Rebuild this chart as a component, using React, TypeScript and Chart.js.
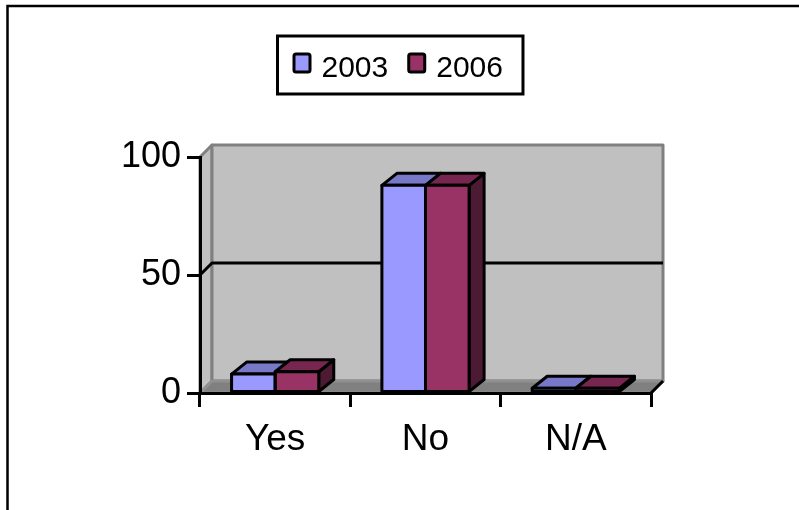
import React, { useEffect, useRef } from "react";
import { Chart, registerables } from "chart.js";

Chart.register(...registerables);

// ---- data ----
const categories = ["Yes", "No", "N/A"];
const seriesLabels = ["2003", "2006"];
const values2003 = [8, 88, 2];
const values2006 = [9, 88, 2];
const yTicks = [0, 50, 100];

// ---- styling ----
const FONT = '"Liberation Sans", Arial, Helvetica, sans-serif';
const frontColors = ["#9999FF", "#993366"];
const topColors = ["#7878C8", "#77264F"];
const sideColors = ["#4D4D80", "#4C1A33"];
const WALL_DX = 12;
const WALL_DY = 12;
const BAR_DX = 15;
const BAR_DY = 12;

const scenePlugin = {
  id: "scene3d",
  beforeDraw(chart: any) {
    const ctx = chart.ctx as CanvasRenderingContext2D;
    const { left, right } = chart.chartArea;
    const ys = chart.scales.y;
    const y0 = ys.getPixelForValue(ys.min);
    const yTop = ys.getPixelForValue(ys.max);
    ctx.save();
    ctx.fillStyle = "#ffffff";
    ctx.fillRect(0, 0, chart.width, chart.height);

    // outer frame (top and left edges)
    ctx.strokeStyle = "#000";
    ctx.lineWidth = 2.5;
    ctx.beginPath();
    ctx.moveTo(7.5, chart.height);
    ctx.lineTo(7.5, 6);
    ctx.lineTo(chart.width, 6);
    ctx.stroke();

    ctx.lineJoin = "round";
    // side wall
    ctx.fillStyle = "#C0C0C0";
    ctx.strokeStyle = "#808080";
    ctx.lineWidth = 3;
    ctx.beginPath();
    ctx.moveTo(left, yTop);
    ctx.lineTo(left + WALL_DX, yTop - WALL_DY);
    ctx.lineTo(left + WALL_DX, y0 - WALL_DY);
    ctx.lineTo(left, y0);
    ctx.closePath();
    ctx.fill();
    ctx.stroke();

    // back wall
    ctx.beginPath();
    ctx.rect(left + WALL_DX, yTop - WALL_DY, right - left, y0 - yTop);
    ctx.fill();
    ctx.stroke();

    // floor
    ctx.fillStyle = "#808080";
    ctx.strokeStyle = "#909090";
    ctx.beginPath();
    ctx.moveTo(left, y0);
    ctx.lineTo(left + WALL_DX, y0 - WALL_DY);
    ctx.lineTo(right + WALL_DX, y0 - WALL_DY);
    ctx.lineTo(right, y0);
    ctx.closePath();
    ctx.fill();
    ctx.stroke();

    // floor right edge (black)
    ctx.strokeStyle = "#000";
    ctx.beginPath();
    ctx.moveTo(right, y0);
    ctx.lineTo(right + WALL_DX, y0 - WALL_DY);
    ctx.stroke();

    // gridlines on walls
    ctx.strokeStyle = "#000";
    ctx.lineWidth = 3;
    yTicks.forEach((v) => {
      if (v <= ys.min || v >= ys.max) return;
      const py = ys.getPixelForValue(v);
      ctx.beginPath();
      ctx.moveTo(left, py);
      ctx.lineTo(left + WALL_DX, py - WALL_DY);
      ctx.lineTo(right + WALL_DX, py - WALL_DY);
      ctx.stroke();
    });
    ctx.restore();
  },
  beforeDatasetsDraw(chart: any) {
    const ctx = chart.ctx as CanvasRenderingContext2D;
    ctx.save();
    ctx.lineJoin = "round";
    ctx.strokeStyle = "#000";
    ctx.lineWidth = 3;
    const n = chart.data.labels.length;
    for (let j = 0; j < n; j++) {
      chart.data.datasets.forEach((ds: any, i: number) => {
        const meta = chart.getDatasetMeta(i);
        const el = meta.data[j];
        const p = el.getProps(["x", "y", "base", "width"], true);
        const l = p.x - p.width / 2;
        const r = p.x + p.width / 2;
        const top = p.y;
        const base = p.base;
        // side face
        ctx.fillStyle = sideColors[i];
        ctx.beginPath();
        ctx.moveTo(r, top);
        ctx.lineTo(r + BAR_DX, top - BAR_DY);
        ctx.lineTo(r + BAR_DX, base - BAR_DY);
        ctx.lineTo(r, base);
        ctx.closePath();
        ctx.fill();
        ctx.stroke();
        // top face
        ctx.fillStyle = topColors[i];
        ctx.beginPath();
        ctx.moveTo(l, top);
        ctx.lineTo(r, top);
        ctx.lineTo(r + BAR_DX, top - BAR_DY);
        ctx.lineTo(l + BAR_DX, top - BAR_DY);
        ctx.closePath();
        ctx.fill();
        ctx.stroke();
      });
    }
    ctx.restore();
  },
  afterDatasetsDraw(chart: any) {
    const ctx = chart.ctx as CanvasRenderingContext2D;
    ctx.save();
    ctx.lineJoin = "round";
    ctx.strokeStyle = "#000";
    ctx.lineWidth = 3;
    chart.data.datasets.forEach((ds: any, i: number) => {
      const meta = chart.getDatasetMeta(i);
      meta.data.forEach((el: any) => {
        const p = el.getProps(["x", "y", "base", "width"], true);
        ctx.strokeRect(p.x - p.width / 2, p.y, p.width, p.base - p.y);
      });
    });
    ctx.restore();
  },
  afterDraw(chart: any) {
    // boxed legend
    const ctx = chart.ctx as CanvasRenderingContext2D;
    ctx.save();
    ctx.font = `30px ${FONT}`;
    const ds = chart.data.datasets;
    const mW = 16;
    const mH = 18;
    const mOuter = mW + 3;
    const gap = 10;
    const itemGap = 19;
    const padL = 15;
    const padR = 20;
    const widths = ds.map((d: any) => ctx.measureText(d.label).width);
    let total = padL + padR + itemGap * (ds.length - 1);
    widths.forEach((w: number) => (total += mOuter + gap + w));
    const bx = Math.round(chart.width / 2 - total / 2) + 0.5;
    const by = 36;
    const bh = 58;
    ctx.fillStyle = "#fff";
    ctx.fillRect(bx, by, total, bh);
    ctx.strokeStyle = "#000";
    ctx.lineWidth = 3;
    ctx.strokeRect(bx, by, total, bh);
    let x = bx + padL;
    const baseline = 77;
    ds.forEach((d: any, i: number) => {
      ctx.beginPath();
      (ctx as any).roundRect(x + 1.5, 63 - mH / 2, mW, mH, 2);
      ctx.fillStyle = d.backgroundColor;
      ctx.fill();
      ctx.lineWidth = 3;
      ctx.strokeStyle = "#000";
      ctx.stroke();
      x += mOuter + gap;
      ctx.fillStyle = "#000";
      ctx.textBaseline = "alphabetic";
      ctx.textAlign = "left";
      ctx.fillText(d.label, x, baseline);
      x += widths[i] + itemGap;
    });
    ctx.restore();
  },
};

export default function App() {
  const canvasRef = useRef<HTMLCanvasElement | null>(null);

  useEffect(() => {
    if (!canvasRef.current) return;
    const chart = new Chart(canvasRef.current, {
      type: "bar",
      data: {
        labels: categories,
        datasets: [
          {
            label: seriesLabels[0],
            data: values2003,
            backgroundColor: frontColors[0],
            borderWidth: 0,
            categoryPercentage: 0.58,
            barPercentage: 1,
          },
          {
            label: seriesLabels[1],
            data: values2006,
            backgroundColor: frontColors[1],
            borderWidth: 0,
            categoryPercentage: 0.58,
            barPercentage: 1,
          },
        ],
      },
      options: {
        responsive: false,
        animation: false,
        devicePixelRatio: 1,
        layout: { padding: { top: 157, right: 148, left: 0, bottom: 0 } },
        plugins: {
          legend: { display: false },
          tooltip: { enabled: false },
        },
        scales: {
          x: {
            type: "category",
            offset: true,
            grid: {
              offset: true,
              drawOnChartArea: false,
              drawTicks: true,
              tickLength: 14,
              color: "#000",
              lineWidth: 3,
            },
            border: { display: true, color: "#000", width: 3 },
            ticks: {
              color: "#000",
              font: { family: FONT, size: 37 },
              padding: 11,
              maxRotation: 0,
            },
            afterFit: (s: any) => {
              s.height = 117;
            },
          },
          y: {
            type: "linear",
            min: 0,
            max: 100,
            afterBuildTicks: (s: any) => {
              s.ticks = yTicks.map((v) => ({ value: v }));
            },
            grid: {
              drawOnChartArea: false,
              drawTicks: true,
              tickLength: 13,
              color: "#000",
              lineWidth: 3,
            },
            border: { display: true, color: "#000", width: 3 },
            ticks: {
              color: "#000",
              font: { family: FONT, size: 36 },
              padding: 6,
            },
            afterFit: (s: any) => {
              s.width = 200;
            },
          },
        },
      },
      plugins: [scenePlugin],
    });
    return () => chart.destroy();
  }, []);

  return (
    <div style={{ position: "absolute", left: 0, top: 0, width: 799, height: 510 }}>
      <canvas ref={canvasRef} width={799} height={510} style={{ display: "block", width: 799, height: 510 }} />
    </div>
  );
}
